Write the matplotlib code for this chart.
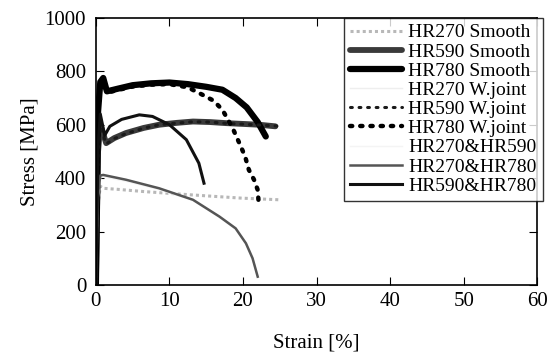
import numpy as np
import matplotlib
matplotlib.use('Agg')
import matplotlib.pyplot as plt

plt.rcParams['font.family'] = ['Liberation Serif', 'DejaVu Serif']

# ── Data (strain %, stress MPa) ──────────────────────────────────────
hr270_s_x = [0, 0.3, 0.6, 1, 3, 6.4, 10, 13.2, 16.5, 19.9, 22.5, 24.9]
hr270_s_y = [0, 300, 370, 362, 358, 350, 343, 337, 331, 325, 322, 319]

hr590_s_x = [0, 0.3, 0.6, 1.4, 2.5, 4.1, 6.5, 8.6, 11, 13.2, 15.5, 17.7, 20, 22.2, 24.4]
hr590_s_y = [0, 500, 600, 531, 550, 569, 588, 600, 607, 612, 610, 606, 603, 600, 594]

hr780_s_x = [0, 0.3, 0.6, 1.0, 1.5, 3, 5, 7.5, 10, 12.5, 15, 17.2, 19, 20.5, 22, 23.1]
hr780_s_y = [0, 650, 760, 775, 725, 735, 748, 755, 758, 752, 742, 731, 700, 665, 610, 556]

hr270_w_x = [0, 0.3, 0.6, 1, 4.1, 8.6, 13.2, 16.8, 19, 20.4, 21.3, 22]
hr270_w_y = [0, 330, 405, 410, 392, 360, 318, 255, 210, 155, 100, 32]

hr590_w_x = [0, 0.3, 0.6, 1.4, 2.5, 4.1, 6.5, 8.6, 11, 13.2, 15.5, 17.7, 20, 22.2, 24.7]
hr590_w_y = [0, 500, 595, 528, 548, 567, 587, 600, 606, 611, 610, 605, 602, 599, 595]

hr780_w_x = [0, 0.3, 0.6, 1.0, 1.5, 3, 5, 7.5, 10, 12.5, 14.5, 16, 17.2, 18.6, 19.7, 20.3, 20.8, 21.5, 22, 22.1]
hr780_w_y = [0, 640, 750, 770, 720, 730, 743, 750, 752, 740, 712, 690, 656, 587, 519, 480, 431, 394, 356, 319]

hr270_590_x = [0, 0.3, 0.6, 1, 4.1, 8.6, 13.2, 16.8, 19, 20.4, 21.3, 22]
hr270_590_y = [0, 320, 400, 405, 388, 357, 316, 253, 208, 153, 98, 30]

hr270_780_x = [0, 0.3, 0.6, 1, 4.1, 8.6, 13.2, 16.8, 19, 20.4, 21.3, 22]
hr270_780_y = [0, 340, 410, 412, 394, 362, 319, 256, 212, 156, 100, 31]

hr590_780_x = [0, 0.3, 0.6, 1.2, 1.9, 3.5, 5.9, 7.7, 10, 12.3, 14, 14.7]
hr590_780_y = [0, 520, 640, 560, 594, 620, 637, 631, 600, 544, 456, 381]

labels = ['HR270 Smooth', 'HR590 Smooth', 'HR780 Smooth',
          'HR270 W.joint', 'HR590 W.joint', 'HR780 W.joint',
          'HR270&HR590', 'HR270&HR780', 'HR590&HR780']

fig = plt.figure(figsize=(5.51, 3.58), dpi=100)
ax = fig.add_axes([0.174, 0.204, 0.801, 0.746])

ax.plot(hr270_s_x, hr270_s_y, color='#b8b8b8', lw=2.2, ls=(0, (1, 1)), label=labels[0])
ax.plot(hr590_s_x, hr590_s_y, color='#3a3a3a', lw=4.2, solid_capstyle='round', label=labels[1])
ax.plot(hr780_s_x, hr780_s_y, color='#000000', lw=4.5, solid_capstyle='round', label=labels[2])
ax.plot(hr270_w_x, hr270_w_y, color='#eeeeee', lw=1.0, label=labels[3])
ax.plot(hr590_w_x, hr590_w_y, color='#1a1a1a', lw=2.2, ls=(0, (0.6, 2.2)),
        dash_capstyle='round', label=labels[4])
ax.plot(hr780_w_x, hr780_w_y, color='#000000', lw=3.2, ls=(0, (0.5, 1.8)),
        dash_capstyle='round', label=labels[5])
ax.plot(hr270_590_x, hr270_590_y, color='#f4f4f4', lw=1.0, label=labels[6])
ax.plot(hr270_780_x, hr270_780_y, color='#555555', lw=1.8, label=labels[7])
ax.plot(hr590_780_x, hr590_780_y, color='#111111', lw=2.2, label=labels[8])

ax.set_xlim(0, 60)
ax.set_ylim(0, 1000)
ax.set_xticks(range(0, 61, 10))
ax.set_yticks(range(0, 1001, 200))
ax.tick_params(direction='in', top=True, right=True, length=6, width=0.8,
               labelsize=15)
ax.tick_params(axis='x', pad=5)
ax.tick_params(axis='y', pad=7)
for s in ax.spines.values():
    s.set_linewidth(1.2)

ax.set_xlabel('Strain [%]', fontsize=15, labelpad=16)
ax.set_ylabel('Stress [MPa]', fontsize=15, labelpad=4)

leg = ax.legend(loc='upper right', bbox_to_anchor=(1.012, 1.0), borderaxespad=0,
                fontsize=14, frameon=True, fancybox=False, edgecolor='black',
                handlelength=2.7, handletextpad=0.3, labelspacing=0.08,
                borderpad=0.3)
leg.get_frame().set_linewidth(1.0)

fig.savefig('out.png', dpi=100)
